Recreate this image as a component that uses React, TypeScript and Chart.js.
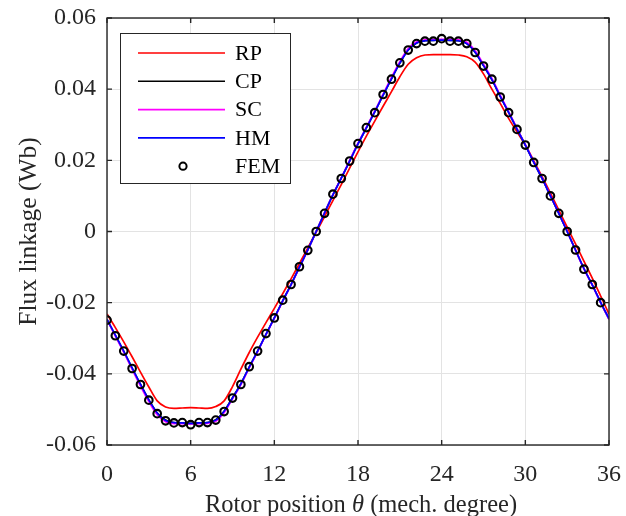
import React, { useEffect, useRef } from "react";
import { Chart, registerables } from "chart.js";

Chart.register(...registerables);

// ---- Data ----
const femTheta = [
  0, 0.6, 1.2, 1.8, 2.4, 3.0, 3.6, 4.2, 4.8, 5.4, 6.0, 6.6, 7.2, 7.8, 8.4, 9.0, 9.6, 10.2, 10.8, 11.4,
  12.0, 12.6, 13.2, 13.8, 14.4, 15.0, 15.6, 16.2, 16.8, 17.4, 18.0, 18.6, 19.2, 19.8, 20.4, 21.0, 21.6, 22.2, 22.8, 23.4,
  24.0, 24.6, 25.2, 25.8, 26.4, 27.0, 27.6, 28.2, 28.8, 29.4, 30.0, 30.6, 31.2, 31.8, 32.4, 33.0, 33.6, 34.2, 34.8, 35.4,
];
const femValues = [
  -0.0249, -0.0293, -0.0336, -0.0385, -0.043, -0.0474, -0.0512, -0.0532, -0.0538, -0.0537,
  -0.0543, -0.0537, -0.0537, -0.053, -0.0506, -0.0468, -0.043, -0.038, -0.0336, -0.0287,
  -0.0243, -0.0193, -0.0149, -0.0099, -0.0053, 0.0, 0.0051, 0.0105, 0.0149, 0.0198,
  0.0247, 0.0292, 0.0334, 0.0385, 0.0428, 0.0474, 0.051, 0.0528, 0.0535, 0.0535,
  0.0542, 0.0535, 0.0535, 0.0528, 0.0503, 0.0465, 0.0428, 0.0378, 0.0334, 0.0287,
  0.0243, 0.0194, 0.0149, 0.01, 0.0051, 0.0, -0.0052, -0.0106, -0.0149, -0.02,
];

const lineTheta = [
  0, 0.6, 1.2, 1.8, 2.4, 3.0, 3.6, 4.2, 4.8, 5.4, 6.0, 6.6, 7.2, 7.8, 8.4, 9.0, 9.6, 10.2, 10.8, 11.4,
  12.0, 12.6, 13.2, 13.8, 14.4, 15.0, 15.6, 16.2, 16.8, 17.4, 18.0, 18.6, 19.2, 19.8, 20.4, 21.0, 21.6, 22.2, 22.8, 23.4,
  24.0, 24.6, 25.2, 25.8, 26.4, 27.0, 27.6, 28.2, 28.8, 29.4, 30.0, 30.6, 31.2, 31.8, 32.4, 33.0, 33.6, 34.2, 34.8, 35.4, 36.0,
];
const rpValues = [
  -0.0232, -0.027, -0.031, -0.0352, -0.0395, -0.0437, -0.0476, -0.0493, -0.0497, -0.0496,
  -0.0495, -0.0496, -0.0497, -0.0492, -0.0476, -0.0436, -0.0387, -0.034, -0.0297, -0.0256,
  -0.0216, -0.0175, -0.0133, -0.009, -0.0046, -0.0002, 0.0042, 0.0087, 0.0132, 0.0178,
  0.0224, 0.0268, 0.031, 0.0352, 0.0393, 0.0435, 0.047, 0.0488, 0.0496, 0.0497,
  0.0497, 0.0497, 0.0496, 0.0491, 0.0476, 0.0443, 0.04, 0.036, 0.0318, 0.028,
  0.0243, 0.0199, 0.0154, 0.0108, 0.006, 0.0012, -0.0035, -0.0083, -0.0131, -0.0181, -0.0232,
];
const cpValues = [
  -0.0247, -0.0292, -0.0337, -0.0384, -0.043, -0.0473, -0.051, -0.053, -0.0537, -0.0538,
  -0.0539, -0.0538, -0.0537, -0.0529, -0.0505, -0.0467, -0.0428, -0.0381, -0.0336, -0.0289,
  -0.0243, -0.0195, -0.0149, -0.01, -0.0052, 0.0, 0.0052, 0.0103, 0.015, 0.0198,
  0.0246, 0.0291, 0.0336, 0.0383, 0.0429, 0.0473, 0.051, 0.053, 0.0536, 0.0537,
  0.0538, 0.0537, 0.0536, 0.0528, 0.0504, 0.0466, 0.0427, 0.038, 0.0335, 0.0288,
  0.0243, 0.0195, 0.0149, 0.01, 0.0051, 0.0, -0.0052, -0.0104, -0.015, -0.0199, -0.0246,
];
const scValues = [
  -0.0248, -0.0294, -0.0339, -0.0387, -0.0434, -0.0478, -0.0515, -0.0535, -0.054, -0.054,
  -0.0541, -0.054, -0.0539, -0.0533, -0.0509, -0.047, -0.0431, -0.0383, -0.0338, -0.029,
  -0.0244, -0.0196, -0.015, -0.0101, -0.0052, 0.0, 0.0053, 0.0104, 0.0151, 0.02,
  0.0248, 0.0293, 0.0338, 0.0386, 0.0433, 0.0477, 0.0514, 0.0533, 0.0539, 0.054,
  0.054, 0.054, 0.0539, 0.0532, 0.0508, 0.047, 0.043, 0.0383, 0.0337, 0.029,
  0.0244, 0.0196, 0.015, 0.0101, 0.0052, 0.0, -0.0053, -0.0105, -0.0151, -0.02, -0.0247,
];
const hmValues = [
  -0.0247, -0.0291, -0.0336, -0.0383, -0.0429, -0.0473, -0.051, -0.0531, -0.0537, -0.0538,
  -0.0539, -0.0538, -0.0537, -0.053, -0.0505, -0.0468, -0.0428, -0.0381, -0.0336, -0.0289,
  -0.0243, -0.0195, -0.0149, -0.01, -0.0052, 0.0, 0.0052, 0.0103, 0.015, 0.0198,
  0.0246, 0.0291, 0.0336, 0.0383, 0.0429, 0.0473, 0.051, 0.053, 0.0536, 0.0537,
  0.0538, 0.0537, 0.0536, 0.0528, 0.0504, 0.0466, 0.0427, 0.038, 0.0335, 0.0288,
  0.0243, 0.0195, 0.0149, 0.01, 0.0051, 0.0, -0.0052, -0.0104, -0.015, -0.0199, -0.0245,
];

const seriesNames = ["RP", "CP", "SC", "HM", "FEM"];
const seriesColors = ["#ff0000", "#000000", "#ff00ff", "#0000ff", "#000000"];
const xTicks = [0, 6, 12, 18, 24, 30, 36];
const yTicks = [-0.06, -0.04, -0.02, 0, 0.02, 0.04, 0.06];
const xTitleParts = ["Rotor position ", "θ", " (mech. degree)"];
const yTitle = "Flux linkage (Wb)";

const FONT = "'Liberation Serif', 'Times New Roman', serif";
const TEXT = "#262626";

const decorPlugin = {
  id: "decor",
  afterDatasetsDraw(chart: any) {
    const ctx = chart.ctx;
    const { left, right, top, bottom } = chart.chartArea;
    const xs = chart.scales.x;
    const ys = chart.scales.y;
    ctx.save();
    // frame
    ctx.strokeStyle = TEXT;
    ctx.lineWidth = 1.4;
    ctx.strokeRect(left, top, right - left, bottom - top);
    // inward ticks
    const tl = 5;
    ctx.beginPath();
    xTicks.forEach((v) => {
      const px = xs.getPixelForValue(v);
      ctx.moveTo(px, bottom);
      ctx.lineTo(px, bottom - tl);
      ctx.moveTo(px, top);
      ctx.lineTo(px, top + tl);
    });
    yTicks.forEach((v) => {
      const py = ys.getPixelForValue(v);
      ctx.moveTo(left, py);
      ctx.lineTo(left + tl, py);
      ctx.moveTo(right, py);
      ctx.lineTo(right - tl, py);
    });
    ctx.stroke();

    // legend
    const bx = 120, by = 33, bw = 170, bh = 150;
    ctx.fillStyle = "#ffffff";
    ctx.fillRect(bx, by, bw, bh);
    ctx.strokeStyle = TEXT;
    ctx.lineWidth = 1;
    ctx.strokeRect(bx + 0.5, by + 0.5, bw, bh);
    ctx.font = `22px ${FONT}`;
    ctx.textBaseline = "middle";
    ctx.textAlign = "left";
    seriesNames.forEach((name, i) => {
      const y = 53 + i * 28.3;
      if (i < 4) {
        ctx.strokeStyle = seriesColors[i];
        ctx.lineWidth = 1.6;
        ctx.beginPath();
        ctx.moveTo(138, y);
        ctx.lineTo(225, y);
        ctx.stroke();
      } else {
        ctx.strokeStyle = seriesColors[i];
        ctx.lineWidth = 2;
        ctx.beginPath();
        ctx.arc(183, y, 3.6, 0, Math.PI * 2);
        ctx.stroke();
      }
      ctx.fillStyle = "#000000";
      ctx.fillText(name, 235, y + 1);
    });
    ctx.restore();
  },
  afterDraw(chart: any) {
    const ctx = chart.ctx;
    const { left, right, top, bottom } = chart.chartArea;
    ctx.save();
    ctx.fillStyle = TEXT;
    ctx.textBaseline = "middle";
    // x title with italic theta
    const fonts = [`24.5px ${FONT}`, `italic 24.5px ${FONT}`, `24.5px ${FONT}`];
    let total = 0;
    const widths = xTitleParts.map((t, i) => {
      ctx.font = fonts[i];
      const w = ctx.measureText(t).width;
      total += w;
      return w;
    });
    let x = (left + right) / 2 + 3 - total / 2;
    ctx.textAlign = "left";
    xTitleParts.forEach((t, i) => {
      ctx.font = fonts[i];
      ctx.fillText(t, x, 506);
      x += widths[i];
    });
    // y title
    ctx.translate(29, top + (bottom - top) / 2);
    ctx.rotate(-Math.PI / 2);
    ctx.textAlign = "center";
    ctx.font = `25.5px ${FONT}`;
    ctx.fillText(yTitle, 0, 0);
    ctx.restore();
  },
};

function toXY(xs: number[], ys: number[]) {
  return xs.map((x, i) => ({ x, y: ys[i] }));
}

export default function App() {
  const ref = useRef<HTMLCanvasElement | null>(null);
  useEffect(() => {
    document.body.style.margin = "0";
    const canvas = ref.current;
    if (!canvas) return;
    const lineCommon = {
      pointRadius: 0,
      borderWidth: 1.7,
      cubicInterpolationMode: "monotone" as const,
      fill: false,
    };
    const chart = new Chart(canvas, {
      type: "line",
      data: {
        datasets: [
          {
            label: "FEM",
            data: toXY(femTheta, femValues),
            showLine: false,
            pointRadius: 3.8,
            pointBorderWidth: 2.1,
            pointBorderColor: "#000000",
            pointBackgroundColor: "rgba(0,0,0,0)",
            borderColor: "#000000",
            order: 0,
          },
          { label: "HM", data: toXY(lineTheta, hmValues), borderColor: seriesColors[3], order: 1, ...lineCommon },
          { label: "SC", data: toXY(lineTheta, scValues), borderColor: seriesColors[2], order: 2, ...lineCommon },
          { label: "CP", data: toXY(lineTheta, cpValues), borderColor: seriesColors[1], order: 3, ...lineCommon },
          { label: "RP", data: toXY(lineTheta, rpValues), borderColor: seriesColors[0], order: 4, ...lineCommon },
        ],
      },
      options: {
        animation: false,
        responsive: false,
        devicePixelRatio: 1,
        layout: { padding: { left: 0, right: 17, top: 18, bottom: 0 } },
        plugins: { legend: { display: false }, tooltip: { enabled: false } },
        scales: {
          x: {
            type: "linear",
            min: 0,
            max: 36,
            afterFit: (s: any) => {
              s.height = 71;
              s.paddingLeft = 0;
              s.paddingRight = 0;
            },
            afterBuildTicks: (s: any) => {
              s.ticks = xTicks.map((v) => ({ value: v }));
            },
            ticks: {
              color: TEXT,
              font: { family: FONT, size: 24 },
              padding: 15,
              maxRotation: 0,
              autoSkip: false,
            },
            grid: { color: "#e3e3e3", lineWidth: 1, drawTicks: false },
            border: { display: false },
          },
          y: {
            type: "linear",
            min: -0.06,
            max: 0.06,
            afterFit: (s: any) => {
              s.width = 107;
              s.paddingTop = 0;
              s.paddingBottom = 0;
            },
            afterBuildTicks: (s: any) => {
              s.ticks = yTicks.map((v) => ({ value: v }));
            },
            ticks: {
              color: TEXT,
              font: { family: FONT, size: 24 },
              padding: 11,
              callback: (v: any) => (Math.abs(Number(v)) < 1e-9 ? "0" : Number(v).toFixed(2)),
            },
            grid: { color: "#e3e3e3", lineWidth: 1, drawTicks: false },
            border: { display: false },
          },
        },
      },
      plugins: [decorPlugin],
    });
    return () => chart.destroy();
  }, []);
  return (
    <div style={{ width: 626, height: 516 }}>
      <canvas ref={ref} width={626} height={516} style={{ display: "block" }} />
    </div>
  );
}
